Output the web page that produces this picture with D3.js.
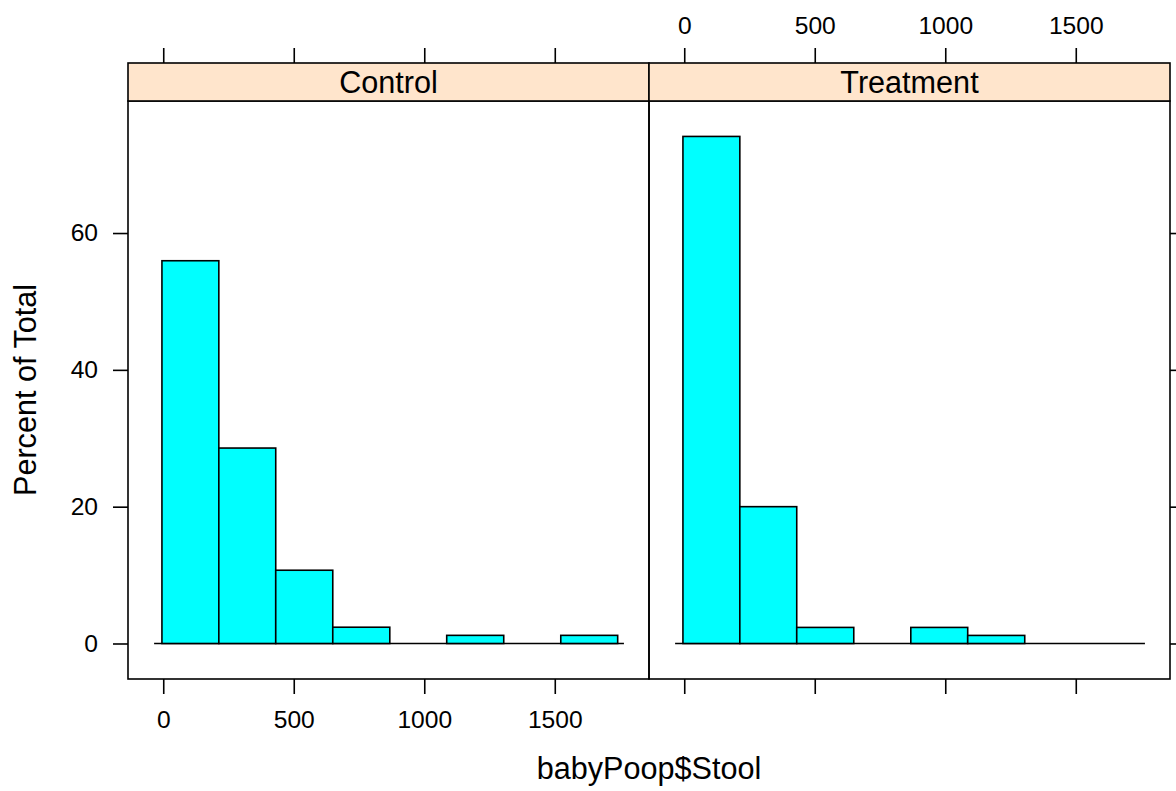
<!DOCTYPE html>
<html>
<head>
<meta charset="utf-8">
<script src="https://cdn.jsdelivr.net/npm/d3@7"></script>
<style>
  body { margin: 0; background: #fff; }
  svg { display: block; font-family: "Liberation Sans", Arial, sans-serif; }
</style>
</head>
<body>
<svg width="1176" height="791"></svg>
<script>
//histogram bins (shared by both panels) and percent of total per bin
const breaks = [-5, 213, 431, 649.5, 868, 1086, 1304.5, 1523, 1741]
const groups = ["Control", "Treatment"]
const controlPct = [55.95, 28.57, 10.71, 2.38, 0, 1.19, 0, 1.19]
const treatmentPct = [74.12, 20.0, 2.35, 0, 2.35, 1.18, 0, 0]
const xTicks = [0, 500, 1000, 1500]
const yTicks = [0, 20, 40, 60]
const xLim = [-135, 1861]
const yLim = [-5.19, 79.3]
const baseLine = [-35, 1765]

const svg = d3.select("svg")
  , stripTop = 63
  , panelTop = 101
  , panelBottom = 679
  , panelX = [128, 649]
  , panelW = 521
  , tick = 15
  , tickFont = 24.6
  , labFont = 30.6;

const y = d3.scaleLinear().domain(yLim).range([panelBottom, panelTop])
const fmt = d3.format("d")

const values = [controlPct, treatmentPct]

groups.forEach((name, i) => {
  const x0 = panelX[i]
  const x = d3.scaleLinear().domain(xLim).range([x0, x0 + panelW])
  const g = svg.append("g")

  const bins = values[i].map((v, j) => ({lo: breaks[j], hi: breaks[j + 1], v: v}))

  //baseline at zero
  g.append("line")
    .attr("x1", x(baseLine[0])).attr("x2", x(baseLine[1]))
    .attr("y1", y(0)).attr("y2", y(0))
    .attr("stroke", "#000").attr("stroke-width", 1.6)

  g.selectAll("rect.bar").data(bins.filter(d => d.v > 0)).enter().append("rect")
    .attr("class", "bar")
    .attr("x", d => x(d.lo))
    .attr("width", d => x(d.hi) - x(d.lo))
    .attr("y", d => y(d.v))
    .attr("height", d => y(0) - y(d.v))
    .attr("fill", "#00ffff")
    .attr("stroke", "#000")
    .attr("stroke-width", 1.6)

  //panel box and strip
  g.append("rect")
    .attr("x", x0).attr("y", panelTop).attr("width", panelW).attr("height", panelBottom - panelTop)
    .attr("fill", "none").attr("stroke", "#000").attr("stroke-width", 1.6)
  g.append("rect")
    .attr("x", x0).attr("y", stripTop).attr("width", panelW).attr("height", panelTop - stripTop)
    .attr("fill", "#ffe5cc").attr("stroke", "#000").attr("stroke-width", 1.6)
  g.append("text")
    .attr("x", x0 + panelW / 2).attr("y", (stripTop + panelTop) / 2)
    .attr("dy", "0.36em").attr("text-anchor", "middle")
    .style("font-size", labFont + "px")
    .text(name)

  //alternating axes like lattice: bottom labels on first, top labels on second
  const top = d3.axisTop(x).tickValues(xTicks).tickSize(tick).tickPadding(14).tickFormat(fmt)
  const bottom = d3.axisBottom(x).tickValues(xTicks).tickSize(tick).tickPadding(17).tickFormat(fmt)
  if (i == 0) top.tickFormat("")
  else bottom.tickFormat("")

  svg.append("g").attr("transform", "translate(0," + stripTop + ")").call(top)
  svg.append("g").attr("transform", "translate(0," + panelBottom + ")").call(bottom)

  if (i == 0) {
    svg.append("g").attr("transform", "translate(" + x0 + ",0)")
      .call(d3.axisLeft(y).tickValues(yTicks).tickSize(tick).tickPadding(15).tickFormat(fmt))
  } else {
    svg.append("g").attr("transform", "translate(" + (x0 + panelW) + ",0)")
      .call(d3.axisRight(y).tickValues(yTicks).tickSize(tick).tickFormat(""))
  }
})

svg.selectAll(".domain").remove()
svg.selectAll(".tick line").attr("stroke", "#000").attr("stroke-width", 1.6)
svg.selectAll(".tick text")
  .attr("fill", "#000")
  .style("font-family", "Liberation Sans, Arial, sans-serif")
  .style("font-size", tickFont + "px")

//axis titles
svg.append("text")
  .attr("x", (panelX[0] + panelX[1] + panelW) / 2).attr("y", 779)
  .attr("text-anchor", "middle")
  .style("font-size", labFont + "px")
  .text("babyPoop$Stool")

svg.append("text")
  .attr("transform", "translate(36," + ((panelTop + panelBottom) / 2) + ") rotate(-90)")
  .attr("text-anchor", "middle")
  .style("font-size", labFont + "px")
  .text("Percent of Total")
</script>
</body>
</html>
